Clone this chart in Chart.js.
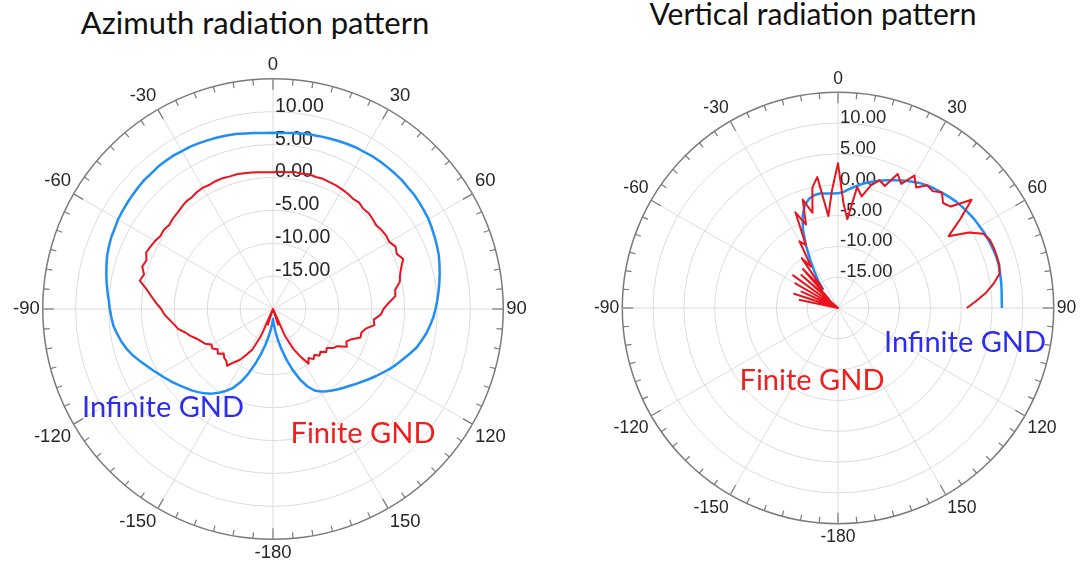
<!DOCTYPE html>
<html>
<head>
<meta charset="utf-8">
<script src="https://cdn.jsdelivr.net/npm/chart.js@4.4.1/dist/chart.umd.min.js"></script>
<style>
  html, body { margin: 0; padding: 0; background: #fff; }
  body { position: relative; width: 1083px; height: 573px; overflow: hidden; }
  canvas { position: absolute; }
  .txt { position: absolute; font-family: Lato, "Open Sans", sans-serif; line-height: 1; white-space: nowrap; transform: translateX(-50%); }
  .title { color: #111; }
  .note { font-size: 29px; }
  .blue { color: #2c2cf2; }
  .red { color: #f21e1e; }
</style>
</head>
<body>
<div class="txt title" style="left:255px; top:7px; font-size:31px;">Azimuth radiation pattern</div>
<div class="txt title" style="left:813px; top:-2px; font-size:30px;">Vertical radiation pattern</div>
<canvas id="azimuth" width="520" height="520" style="left:10px; top:50px;"></canvas>
<canvas id="vertical" width="488" height="488" style="left:592px; top:64px;"></canvas>
<div class="txt note blue" style="left:163px; top:391px;">Infinite GND</div>
<div class="txt note red" style="left:363px; top:417px;">Finite GND</div>
<div class="txt note red" style="left:812px; top:364px;">Finite GND</div>
<div class="txt note blue" style="left:965px; top:326px;">Infinite GND</div>
<script>
// angle of each sample, degrees, clockwise from top (3 degree steps)
const angles = [
  0, 3, 6, 9, 12, 15, 18, 21, 24, 27, 30, 33, 36, 39, 42, 45, 48, 51, 54, 57,
  60, 63, 66, 69, 72, 75, 78, 81, 84, 87, 90, 93, 96, 99, 102, 105, 108, 111, 114, 117,
  120, 123, 126, 129, 132, 135, 138, 141, 144, 147, 150, 153, 156, 159, 162, 165, 168, 171, 174, 177,
  -180, -177, -174, -171, -168, -165, -162, -159, -156, -153, -150, -147, -144, -141, -138, -135, -132, -129, -126, -123,
  -120, -117, -114, -111, -108, -105, -102, -99, -96, -93, -90, -87, -84, -81, -78, -75, -72, -69, -66, -63,
  -60, -57, -54, -51, -48, -45, -42, -39, -36, -33, -30, -27, -24, -21, -18, -15, -12, -9, -6, -3
];

// radial axis, dB
const rMin = -20;
const rMax = 15;
const rStep = 5;

// azimuth pattern, dB
const azInfinite = [
  6.8, 6.8, 6.9, 7.0, 7.1, 7.2, 7.3, 7.4, 7.5, 7.6, 7.6, 7.7, 7.7, 7.7, 7.7, 7.7, 7.6, 7.6, 7.5, 7.4,
  7.3, 7.1, 6.9, 6.7, 6.5, 6.2, 5.9, 5.6, 5.3, 5.0, 4.7, 4.4, 4.0, 3.6, 3.1, 2.6, 1.9, 1.2, 0.6, 0.0,
  -0.7, -1.3, -1.9, -2.5, -3.0, -3.5, -3.9, -4.3, -4.7, -5.1, -5.5, -6.1, -7.1, -8.5, -10.2, -12.0, -13.7, -15.2, -16.6, -17.8,
  -18.5, -17.8, -16.9, -15.8, -14.4, -12.9, -11.2, -9.4, -7.8, -6.5, -5.6, -4.8, -4.1, -3.5, -3.0, -2.5, -2.1, -1.6, -1.1, -0.6,
  -0.1, 0.5, 1.1, 1.8, 2.5, 3.1, 3.6, 4.0, 4.4, 4.6, 4.8, 5.0, 5.3, 5.6, 5.9, 6.2, 6.5, 6.7, 6.9, 7.0,
  7.2, 7.3, 7.4, 7.5, 7.6, 7.7, 7.7, 7.8, 7.8, 7.8, 7.7, 7.7, 7.6, 7.5, 7.4, 7.3, 7.2, 7.0, 6.9, 6.8
];
const azFinite = [
  0.8, 0.9, 0.9, 1.1, 1.0, 1.2, 1.1, 1.2, 1.1, 1.1, 1.0, 0.9, 0.7, 0.8, 0.5, 0.6, 0.4, 0.2, 0.4, 0.5,
  0.4, 0.9, 0.6, 1.2, 0.5, 0.0, -0.3, -1.2, -1.3, -2.4, -3.2, -3.6, -4.6, -4.4, -5.6, -6.1, -6.0, -7.2, -7.8, -7.4,
  -8.7, -9.1, -9.9, -9.6, -10.3, -10.0, -10.6, -10.2, -10.8, -10.1, -11.6, -13.2, -15.5, -20, -17.5, -20, -20, -20, -20, -20,
  -20, -20, -20, -20, -20, -20, -17.5, -20, -15.5, -13.0, -12.0, -10.8, -10.0, -8.9, -9.4, -9.5, -9.9, -9.2, -9.6, -9.0,
  -9.2, -8.4, -8.0, -7.5, -6.8, -6.2, -5.3, -4.8, -4.2, -3.5, -3.0, -2.2, -1.4, -0.5, 0.7, 0.3, 0.9, 0.6, 1.1, 0.9,
  0.7, 0.4, 0.5, 0.3, 0.5, 0.6, 0.8, 1.0, 1.0, 1.2, 1.3, 1.2, 1.3, 1.3, 1.2, 1.2, 1.1, 1.0, 0.9, 0.8
];

// vertical pattern, dB
const vtInfinite = [
  -1.4, -1.1, -0.5, 0.1, 0.7, 1.2, 1.7, 2.2, 2.7, 3.2, 3.7, 4.2, 4.6, 4.9, 5.2, 5.5, 5.8, 6.0, 6.2, 6.4,
  6.5, 6.7, 6.8, 6.9, 7.0, 7.0, 6.9, 6.8, 6.7, 6.6, 6.6, null, null, null, null, null, null, null, null, null,
  null, null, null, null, null, null, null, null, null, null, null, null, null, null, null, null, null, null, null, null,
  null, null, null, null, null, null, null, null, null, null, null, null, null, null, null, null, null, null, null, null,
  null, null, null, null, null, null, null, null, null, null, null, null, null, null, null, null, null, null, null, null,
  null, null, null, null, null, null, null, -16.2, -14.5, -13.0, -11.0, -8.5, -6.0, -4.0, -2.5, -1.7, -1.3, -1.2, -1.3, -1.4
];
const vtFinite = [
  3.5, -3.0, -5.5, -0.1, -1.5, 0.6, 1.8, 1.2, 3.8, 2.6, 4.8, 3.3, 4.6, 4.4, 5.2, 4.1, 4.6, 7.9, 4.5, 1.4,
  4.5, 6.5, 7.0, 7.1, 7.1, 7.1, 6.8, 5.6, 4.2, 2.5, 0.9, null, null, null, null, null, null, null, null, null,
  null, null, null, null, null, null, null, null, null, null, null, null, null, null, null, null, null, null, null, null,
  null, null, null, null, null, null, null, null, null, null, null, null, null, null, null, null, null, null, null, null,
  null, null, null, null, null, null, null, null, null, null, null, null, null, null, -13.5, -20, -12.5, -20, -13.5, -20,
  -12, -20, -11, -20, -12, -18, -11.5, -16, -10, -12, -7.5, -8.5, -3, -5.5, -1.5, -4, 0, 1.5, -5, -1
];

const blueLine = "#1f8ff7";
const redLine = "#e8141e";

// outer ring tick marks and the dB labels beside the 0 degree line
const polarExtras = {
  id: "polarExtras",
  beforeDatasetsDraw(chart, args, opts) {
    const scale = chart.scales.r;
    const ctx = chart.ctx;
    const count = chart.data.labels.length;
    const outer = scale.getDistanceFromCenterForValue(scale.max);
    ctx.save();
    ctx.strokeStyle = "#7a7a7a";
    ctx.lineWidth = 1.2;
    for (let deg = 0; deg < 360; deg += 5) {
      const len = deg % 30 === 0 ? opts.major : opts.minor;
      const a = scale.getPointPosition(deg / 360 * count, outer);
      const b = scale.getPointPosition(deg / 360 * count, outer - len);
      ctx.beginPath();
      ctx.moveTo(a.x, a.y);
      ctx.lineTo(b.x, b.y);
      ctx.stroke();
    }
    ctx.fillStyle = "#262626";
    ctx.font = opts.tickSize + "px 'Liberation Sans', Arial, sans-serif";
    ctx.textAlign = "left";
    ctx.textBaseline = "alphabetic";
    scale.ticks.forEach(t => {
      if (t.value <= scale.min || t.value >= scale.max) return;
      const y = scale.yCenter - scale.getDistanceFromCenterForValue(t.value);
      ctx.fillText(t.label, scale.xCenter + 2, y);
    });
    ctx.restore();
  }
};

function makePolar(id, infinite, finite, angleFont, tickSize) {
  return new Chart(document.getElementById(id), {
    type: "radar",
    data: {
      labels: angles,
      datasets: [
        { label: "Finite GND", data: finite, borderColor: redLine, borderWidth: 2, fill: false, pointRadius: 0, borderJoinStyle: "round", spanGaps: false },
        { label: "Infinite GND", data: infinite, borderColor: blueLine, borderWidth: 2.5, fill: false, pointRadius: 0, borderJoinStyle: "round", spanGaps: false }
      ]
    },
    options: {
      responsive: false,
      animation: false,
      layout: { padding: 0 },
      plugins: {
        legend: { display: false },
        tooltip: { enabled: false },
        polarExtras: { major: 11, minor: 6, tickSize: tickSize }
      },
      scales: {
        r: {
          min: rMin,
          max: rMax,
          ticks: { stepSize: rStep, display: false, callback: v => v.toFixed(2) },
          grid: {
            circular: true,
            color: c => c.tick.value === rMax ? "#7a7a7a" : (c.tick.value === rMin ? "rgba(0,0,0,0)" : "#dcdcdc"),
            lineWidth: c => c.tick.value === rMax ? 1.5 : 1
          },
          angleLines: {
            color: "#dcdcdc",
            lineWidth: c => c.index % 10 === 0 ? 1 : 0
          },
          pointLabels: {
            padding: 3,
            color: "#262626",
            font: { family: "'Liberation Sans', Arial, sans-serif", size: angleFont },
            callback: (label, i) => i % 10 === 0 ? String(label) : ""
          }
        }
      }
    },
    plugins: [polarExtras]
  });
}

makePolar("azimuth", azInfinite, azFinite, 18.5, 19.5);
makePolar("vertical", vtInfinite, vtFinite, 17.5, 18.5);
</script>
</body>
</html>
